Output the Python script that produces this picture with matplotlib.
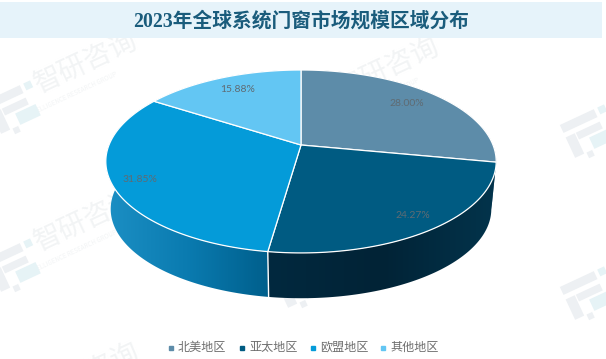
"""Regional split of the global system door and window market, 2023 (tilted pie)."""

from __future__ import annotations

import matplotlib

matplotlib.use("Agg")
import matplotlib.pyplot as plt
import numpy as np
from matplotlib.colors import LinearSegmentedColormap
from matplotlib.patches import Polygon, Rectangle
from matplotlib.transforms import Affine2D

plt.rcParams["font.family"] = ["Noto Sans CJK SC", "DejaVu Sans"]

TITLE = "2023年全球系统门窗市场规模区域分布"
regions = ["北美地区", "亚太地区", "欧盟地区", "其他地区"]
shares = [28.00, 24.27, 31.85, 15.88]

top_colors = ["#5d8ca9", "#005b82", "#049bd9", "#63c6f3"]
side_stops = [
    ["#3f6b85", "#3f6b85"],
    ["#02293f", "#012336", "#03344c"],
    ["#1c8fc4", "#0a7bb0", "#005f8c"],
    ["#3f9fc8", "#3f9fc8"],
]
label_pos = [(407, 103), (413, 216), (140, 179), (238, 89)]
legend_x = [171, 242, 313, 383]

# pie geometry in pixels, the tilt is a projection of a unit circle
CX, CY = 301, 145
A, B, K = 192.0, 88.5, 0.18
DEPTH = 48

# watermark placement, text centre and logo centre
mark_text = [(86, 62), (86, 220), (388, 68), (88, 373)]
mark_logo = [(13, 109), (13, 267), (300, 283), (587, 133), (587, 295)]

# logo pieces: x0, y0, width, height, colour
logo_parts = [
    (-17, -15, 30, 7, "#edf0f3"),
    (-8, -4, 21, 6, "#edf0f3"),
    (-17, -4, 8, 18, "#edf0f3"),
    (-7, 14, 5, 5, "#edf0f3"),
    (0, 4, 18, 10, "#e6f3f6"),
    (16, -15, 6, 6, "#e6f3f6"),
]


def project(theta, scale=1.0, drop=0.0):
    """theta clockwise from 12 o'clock, returns picture x, y."""
    u, v = np.sin(theta), np.cos(theta)
    d = 1 + K * v
    return CX + scale * A * u / d, CY + drop - scale * B * v / d


def draw_watermarks(ax):
    for x, y in mark_text:
        ax.text(x, y, "智研咨询", fontsize=20, color="#f2f4f5", rotation=25,
                rotation_mode="anchor", ha="center", va="center", zorder=1)
        if y + 33 < 359:
            ax.text(x - 14, y + 33, "INTELLIGENCE RESEARCH GROUP", fontsize=4.5, color="#f2f4f5", rotation=25,
                    rotation_mode="anchor", ha="center", va="center", zorder=1)
    for x, y in mark_logo:
        tr = Affine2D().scale(1.25).rotate_deg(-25).translate(x, y) + ax.transData
        for x0, y0, w, h, color in logo_parts:
            ax.add_patch(Rectangle((x0, y0), w, h, color=color, lw=0, transform=tr, zorder=1))


def main() -> None:
    fig = plt.figure(figsize=(6.06, 3.59), dpi=100)
    ax = fig.add_axes([0, 0, 1, 1])
    ax.set_xlim(0, 606)
    ax.set_ylim(359, 0)
    ax.axis("off")

    draw_watermarks(ax)

    ax.add_patch(Rectangle((0, 2), 602, 36, color="#e6f3fa", lw=0, zorder=2))
    ax.text(301, 22, TITLE, fontsize=14.2, fontweight="bold", color="#1a5c7c",
            family=["Liberation Serif", "Noto Sans CJK SC"], ha="center", va="center", zorder=3)

    edges = np.radians(np.cumsum([0] + shares) * 3.6)

    # side wall first, the top face then covers whatever faces away
    for i in range(len(shares)):
        t = np.linspace(edges[i], edges[i + 1], 120)
        xt, yt = project(t)
        xb, yb = project(t, 0.975, DEPTH)
        wall = Polygon(np.r_[np.c_[xt, yt], np.c_[xb, yb][::-1]], closed=True, fc="none", ec="none", zorder=4)
        ax.add_patch(wall)
        cmap = LinearSegmentedColormap.from_list(f"side{i}", side_stops[i])
        im = ax.imshow(np.linspace(0, 1, 256)[None, :], cmap=cmap, aspect="auto", zorder=4,
                       extent=(min(xt.min(), xb.min()), max(xt.max(), xb.max()), 320, 60))
        im.set_clip_path(wall)
    ax.set_xlim(0, 606)
    ax.set_ylim(359, 0)

    # seam between the two visible walls
    sx, sy = project(edges[2])
    bx, by = project(edges[2], 0.975, DEPTH)
    ax.plot([sx, bx], [sy, by], color="white", lw=1, zorder=5)

    for i, color in enumerate(top_colors):
        t = np.linspace(edges[i], edges[i + 1], 120)
        xt, yt = project(t)
        ax.add_patch(Polygon(np.r_[[[CX, CY]], np.c_[xt, yt]], closed=True, fc=color,
                             ec="white", lw=0.9, zorder=6))

    for share, (x, y) in zip(shares, label_pos):
        ax.text(x, y, f"{share:.2f}%", fontsize=7.5, family="Lato", color="#5f6b73",
                ha="center", va="center", zorder=7)

    for name, color, x in zip(regions, top_colors, legend_x):
        ax.plot([x], [348], marker="s", ms=2.4, color=color, ls="none", zorder=7)
        ax.text(x + 7, 347.5, name, fontsize=8.7, color="#6e6e6e", ha="left", va="center", zorder=7)

    fig.savefig("out.png", dpi=100)


if __name__ == "__main__":
    main()
